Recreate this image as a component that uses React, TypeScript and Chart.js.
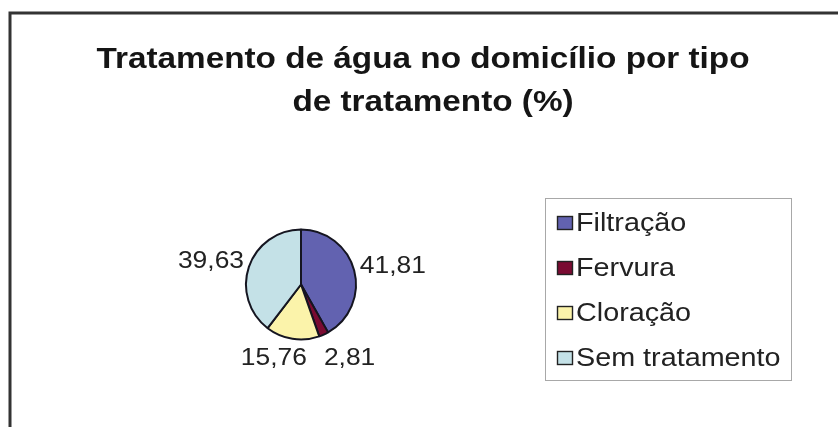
import React, { useEffect, useRef } from "react";
import { Chart, registerables } from "chart.js";

Chart.register(...registerables);

const TITLE_LINES = ["Tratamento de água no domicílio por tipo", "de tratamento (%)"];
const CATEGORIES = ["Filtração", "Fervura", "Cloração", "Sem tratamento"];
const VALUES = [41.81, 2.81, 15.76, 39.63];
const COLORS = ["#6262b0", "#7a0b32", "#fbf3aa", "#c4e1e7"];

const fmt = (v: number) => v.toFixed(2).replace(".", ",");
const FONT = "'Liberation Sans', Arial, sans-serif";

function stretchedText(ctx: CanvasRenderingContext2D, text: string, x: number, y: number, k: number) {
  ctx.save();
  ctx.translate(x, y);
  ctx.scale(k, 1);
  ctx.fillText(text, 0, 0);
  ctx.restore();
}

const decorPlugin = {
  id: "decor",
  beforeDraw(chart: any) {
    const ctx = chart.ctx as CanvasRenderingContext2D;
    ctx.save();
    ctx.fillStyle = "#ffffff";
    ctx.fillRect(0, 0, chart.width, chart.height);
    // frame
    ctx.strokeStyle = "#333333";
    ctx.lineWidth = 3;
    ctx.beginPath();
    ctx.moveTo(10, chart.height);
    ctx.lineTo(10, 13);
    ctx.lineTo(chart.width, 13);
    ctx.stroke();
    // title
    ctx.fillStyle = "#151515";
    ctx.font = `bold 30px ${FONT}`;
    ctx.textAlign = "center";
    ctx.textBaseline = "alphabetic";
    stretchedText(ctx, TITLE_LINES[0], 423, 68, 1.11);
    stretchedText(ctx, TITLE_LINES[1], 433, 111, 1.11);
    ctx.restore();
  },
  afterDraw(chart: any) {
    const ctx = chart.ctx as CanvasRenderingContext2D;
    const meta = chart.getDatasetMeta(0);
    const ds = chart.data.datasets[0];
    const K = 1.1;
    ctx.save();
    // data labels
    ctx.font = `24px ${FONT}`;
    ctx.fillStyle = "#222222";
    ctx.textAlign = "center";
    ctx.textBaseline = "middle";
    const labels: any[] = [];
    meta.data.forEach((arc: any, i: number) => {
      const p = arc.getProps(["x", "y", "startAngle", "endAngle", "outerRadius"], true);
      const mid = (p.startAngle + p.endAngle) / 2;
      const dx = Math.cos(mid);
      const dy = Math.sin(mid);
      const text = fmt(ds.data[i]);
      const w = ctx.measureText(text).width * K;
      const h = 24;
      const r = p.outerRadius + 7;
      labels.push({
        text,
        w,
        h,
        x: p.x + dx * r + dx * (w / 2),
        y: p.y + dy * r + dy * (h / 2),
      });
    });
    // resolve overlaps
    const gap = 17;
    for (let a = 0; a < labels.length; a++) {
      for (let b = a + 1; b < labels.length; b++) {
        const A = labels[a];
        const B = labels[b];
        if (Math.abs(A.y - B.y) < (A.h + B.h) / 2) {
          const need = (A.w + B.w) / 2 + gap;
          const dist = Math.abs(A.x - B.x);
          if (dist < need) {
            const push = (need - dist) / 2;
            if (A.x < B.x) {
              A.x -= push;
              B.x += push;
            } else {
              A.x += push;
              B.x -= push;
            }
            const yy = Math.max(A.y, B.y);
            A.y = yy;
            B.y = yy;
          }
        }
      }
    }
    labels.forEach((l) => stretchedText(ctx, l.text, l.x, l.y + 1, K));

    // legend
    const bx = 545, by = 198, bw = 246, bh = 182;
    ctx.strokeStyle = "#a8a8a8";
    ctx.lineWidth = 1;
    ctx.strokeRect(bx + 0.5, by + 0.5, bw, bh);
    const itemYs = [223, 268, 313, 358];
    ctx.font = `25px ${FONT}`;
    ctx.textAlign = "left";
    ctx.textBaseline = "middle";
    chart.data.labels.forEach((lab: string, i: number) => {
      const y = itemYs[i];
      ctx.fillStyle = ds.backgroundColor[i];
      ctx.fillRect(557, y - 7, 16, 14);
      ctx.strokeStyle = "#222";
      ctx.lineWidth = 1.4;
      ctx.strokeRect(557.5, y - 6.5, 15, 13);
      ctx.fillStyle = "#222";
      stretchedText(ctx, lab, 576, y + 1, 1.15);
    });
    ctx.restore();
  },
};

export default function App() {
  const ref = useRef<HTMLCanvasElement | null>(null);
  useEffect(() => {
    if (!ref.current) return;
    const chart = new Chart(ref.current, {
      type: "pie",
      data: {
        labels: CATEGORIES,
        datasets: [
          {
            data: VALUES,
            backgroundColor: COLORS,
            borderColor: "#151520",
            borderWidth: 2,
            hoverOffset: 0,
          },
        ],
      },
      options: {
        animation: false,
        responsive: true,
        maintainAspectRatio: false,
        layout: { padding: { left: 245, right: 481, top: 228, bottom: 86 } },
        plugins: {
          legend: { display: false },
          title: { display: false },
          tooltip: { enabled: false },
        },
      },
      plugins: [decorPlugin],
    });
    return () => chart.destroy();
  }, []);
  return (
    <div style={{ position: "fixed", left: 0, top: 0, width: 838, height: 427, background: "#fff" }}>
      <canvas ref={ref} />
    </div>
  );
}
